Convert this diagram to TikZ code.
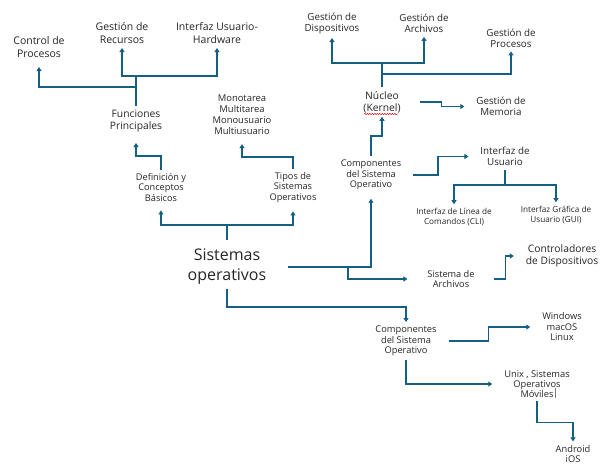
\documentclass[tikz,border=0pt]{standalone}
\usepackage{fontspec}
\setmainfont{Open Sans}
\usetikzlibrary{arrows.meta,decorations.pathmorphing}
\definecolor{ocean}{HTML}{156082}
\begin{document}
\begin{tikzpicture}[x=1pt,y=-1pt,
    box/.style={align=center, inner sep=0pt, outer xsep=12pt, outer ysep=4pt, text=black!85},
    big/.style={box, font=\fontsize{16}{20}\selectfont},
    lg/.style={box, font=\fontsize{10.5}{13}\selectfont},
    md/.style={box, font=\fontsize{9.8}{11.2}\selectfont},
    sm/.style={box, font=\fontsize{9.2}{10.3}\selectfont},
    xs/.style={box, font=\fontsize{8.2}{10}\selectfont},
    link/.style={draw=ocean, line width=1.8pt},
    arr/.style={link, -{Triangle[width=5pt,length=4pt]}}]
    \fill[white] (0,0) rectangle (609,474);
    \node[big] (so) at (227,267) {Sistemas\\operativos};
    \node[sm] (def) at (161,187.5) {Definición y\\Conceptos\\Básicos};
    \node[sm] (tipos) at (293,187.5) {Tipos de\\Sistemas\\Operativos};
    \node[md, font=\fontsize{10.3}{12}\selectfont] (fun) at (136,121) {Funciones\\Principales};
    \node[sm, font=\fontsize{9.4}{10.8}\selectfont] (mono) at (242,114.5) {Monotarea\\Multitarea\\Monousuario\\Multiusuario};
    \node[lg] (ctrl) at (39,47.5) {Control de\\Procesos};
    \node[lg] (rec) at (122,33.5) {Gestión de\\Recursos};
    \node[lg] (hw) at (217,33.5) {Interfaz Usuario-\\Hardware};
    \node[sm] (comp) at (371,175) {Componentes\\del Sistema\\Operativo};
    \node[md, font=\fontsize{10.3}{12}\selectfont] (nuc) at (382,102) {Núcleo\\(Kernel)};
    \node[md] (dis) at (332,23.5) {Gestión de\\Dispositivos};
    \node[md] (arc) at (424,23.5) {Gestión de\\Archivos};
    \node[md] (pro) at (511,38) {Gestión de\\Procesos};
    \node[md] (mem) at (501,106.5) {Gestión de\\Memoria};
    \node[md] (iu) at (505,156.5) {Interfaz de\\Usuario};
    \node[xs] (cli) at (454,217) {Interfaz de Línea de\\Comandos (CLI)};
    \node[xs] (gui) at (556,215) {Interfaz Gráfica de\\Usuario (GUI)};
    \node[sm] (sa) at (451,279) {Sistema de\\Archivos};
    \node[md, font=\fontsize{10.3}{12}\selectfont] (ctl) at (562,256) {Controladores\\de Dispositivos};
    \node[sm, font=\fontsize{9.3}{10.5}\selectfont] (comp2) at (406,341) {Componentes\\del Sistema\\Operativo};
    \node[sm, font=\fontsize{9.3}{10.5}\selectfont] (win) at (562,327) {Windows\\macOS\\Linux};
    \node[sm, font=\fontsize{9.3}{10}\selectfont] (unix) at (537,384) {Unix , Sistemas\\Operativos\\Móviles};
    \node[sm, font=\fontsize{9.3}{10}\selectfont] (and) at (573,454) {Android\\iOS};
    \draw[link] ([yshift=5pt]so.north) -- ++(0,-15) coordinate (j1);
    \draw[arr] (j1) -| ([yshift=-5pt]def.south);
    \draw[arr] (j1) -| ([yshift=-5pt]tipos.south);
    \draw[arr] (def.north) -- ++(0,-14) -| ([yshift=-7pt]fun.south);
    \draw[arr] (tipos.north) -- ++(0,-12) -| ([yshift=-6pt]mono.south);
    \draw[link] (fun.north) -- ++(0,-19) coordinate (j4) -- ++(0,-11) coordinate (j3);
    \draw[arr] (j4) -| ([yshift=-5pt]ctrl.south);
    \draw[arr] (j3) -| (rec.south);
    \draw[arr] (j3) -| (hw.south);
    \draw[arr] ([xshift=10pt]so.east) -- ++(60,0) coordinate (j5) -| ([yshift=-5pt]comp.south);
    \draw[arr] (j5) |- ([xshift=-8pt]sa.west);
    \draw[arr] (so.south) -- ++(0,18) -| (comp2.north);
    \draw[arr] (comp.north) -- ++(0,-20) -| (nuc.south);
    \draw[link] (nuc.north) -- ++(0,-13) coordinate (j7) -- ++(0,-11) coordinate (j6);
    \draw[arr] (j6) -| (dis.south);
    \draw[arr] (j6) -| (arc.south);
    \draw[arr] (j7) -| (pro.south);
    \draw[arr] ([xshift=7pt]nuc.east) -- ++(22,0) |- (mem.west);
    \draw[arr] (comp.east) -- ++(25,0) |- (iu.west);
    \draw[link] (iu.south) -- ++(0,15) coordinate (j8);
    \draw[arr] (j8) -| (cli.north);
    \draw[arr] (j8) -| (gui.north);
    \draw[arr] ([xshift=7pt]sa.east) -- ++(12,0) |- (ctl.west);
    \draw[arr] (comp2.east) -- ++(40,0) |- (win.west);
    \draw[arr] (comp2.south) |- (unix.west);
    \draw[arr] (unix.south) -- ++(0,21) -| (and.north);
    \draw[red!80!black, line width=.5pt, decorate, decoration={snake, amplitude=.6pt, segment length=2.5pt}] (364,114) -- (398,114);
    \draw[gray, line width=.4pt] (555,388) -- (555,398);
\end{tikzpicture}
\end{document}
